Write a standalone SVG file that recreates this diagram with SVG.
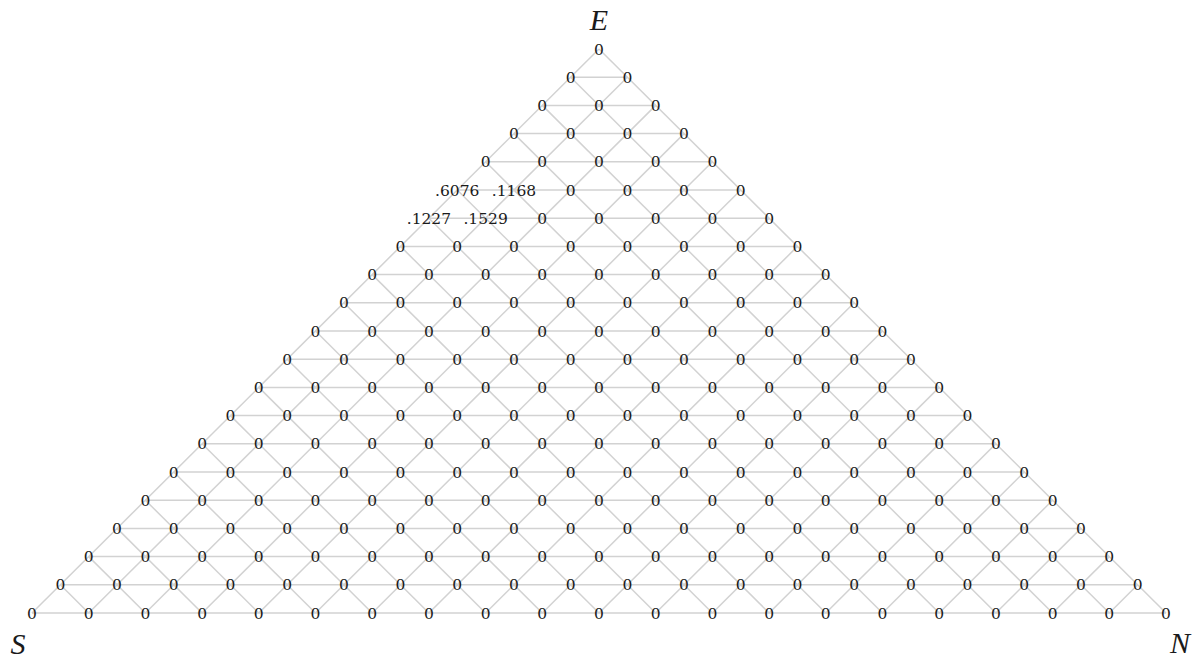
<svg xmlns="http://www.w3.org/2000/svg" width="1203" height="659" viewBox="0 0 1203 659">
<style>
.bg{fill:#ffffff}
.grid line{stroke:#d2d2d2;stroke-width:1.5;fill:none}
.v{font-family:"DejaVu Serif","Liberation Serif",serif;font-size:15.5px;fill:#1a1a1a;text-anchor:middle}
.corner{font-family:"Liberation Serif","DejaVu Serif",serif;font-style:italic;font-size:30px;fill:#1a1a1a;text-anchor:middle}
</style>
<rect class="bg" x="0" y="0" width="1203" height="659"/>
<g id="connectors" class="grid">
<line x1="570.65" y1="77.2" x2="627.35" y2="77.2"/>
<line x1="542.3" y1="105.4" x2="655.7" y2="105.4"/>
<line x1="513.95" y1="133.6" x2="684.05" y2="133.6"/>
<line x1="485.6" y1="161.8" x2="712.4" y2="161.8"/>
<line x1="457.25" y1="190" x2="740.75" y2="190"/>
<line x1="428.9" y1="218.2" x2="769.1" y2="218.2"/>
<line x1="400.55" y1="246.4" x2="797.45" y2="246.4"/>
<line x1="372.2" y1="274.6" x2="825.8" y2="274.6"/>
<line x1="343.85" y1="302.8" x2="854.15" y2="302.8"/>
<line x1="315.5" y1="331" x2="882.5" y2="331"/>
<line x1="287.15" y1="359.2" x2="910.85" y2="359.2"/>
<line x1="258.8" y1="387.4" x2="939.2" y2="387.4"/>
<line x1="230.45" y1="415.6" x2="967.55" y2="415.6"/>
<line x1="202.1" y1="443.8" x2="995.9" y2="443.8"/>
<line x1="173.75" y1="472" x2="1024.25" y2="472"/>
<line x1="145.4" y1="500.2" x2="1052.6" y2="500.2"/>
<line x1="117.05" y1="528.4" x2="1080.95" y2="528.4"/>
<line x1="88.7" y1="556.6" x2="1109.3" y2="556.6"/>
<line x1="60.35" y1="584.8" x2="1137.65" y2="584.8"/>
<line x1="32" y1="613" x2="1166" y2="613"/>
<line x1="599" y1="49" x2="32" y2="613"/>
<line x1="627.35" y1="77.2" x2="88.7" y2="613"/>
<line x1="655.7" y1="105.4" x2="145.4" y2="613"/>
<line x1="684.05" y1="133.6" x2="202.1" y2="613"/>
<line x1="712.4" y1="161.8" x2="258.8" y2="613"/>
<line x1="740.75" y1="190" x2="315.5" y2="613"/>
<line x1="769.1" y1="218.2" x2="372.2" y2="613"/>
<line x1="797.45" y1="246.4" x2="428.9" y2="613"/>
<line x1="825.8" y1="274.6" x2="485.6" y2="613"/>
<line x1="854.15" y1="302.8" x2="542.3" y2="613"/>
<line x1="882.5" y1="331" x2="599" y2="613"/>
<line x1="910.85" y1="359.2" x2="655.7" y2="613"/>
<line x1="939.2" y1="387.4" x2="712.4" y2="613"/>
<line x1="967.55" y1="415.6" x2="769.1" y2="613"/>
<line x1="995.9" y1="443.8" x2="825.8" y2="613"/>
<line x1="1024.25" y1="472" x2="882.5" y2="613"/>
<line x1="1052.6" y1="500.2" x2="939.2" y2="613"/>
<line x1="1080.95" y1="528.4" x2="995.9" y2="613"/>
<line x1="1109.3" y1="556.6" x2="1052.6" y2="613"/>
<line x1="1137.65" y1="584.8" x2="1109.3" y2="613"/>
<line x1="599" y1="49" x2="1166" y2="613"/>
<line x1="570.65" y1="77.2" x2="1109.3" y2="613"/>
<line x1="542.3" y1="105.4" x2="1052.6" y2="613"/>
<line x1="513.95" y1="133.6" x2="995.9" y2="613"/>
<line x1="485.6" y1="161.8" x2="939.2" y2="613"/>
<line x1="457.25" y1="190" x2="882.5" y2="613"/>
<line x1="428.9" y1="218.2" x2="825.8" y2="613"/>
<line x1="400.55" y1="246.4" x2="769.1" y2="613"/>
<line x1="372.2" y1="274.6" x2="712.4" y2="613"/>
<line x1="343.85" y1="302.8" x2="655.7" y2="613"/>
<line x1="315.5" y1="331" x2="599" y2="613"/>
<line x1="287.15" y1="359.2" x2="542.3" y2="613"/>
<line x1="258.8" y1="387.4" x2="485.6" y2="613"/>
<line x1="230.45" y1="415.6" x2="428.9" y2="613"/>
<line x1="202.1" y1="443.8" x2="372.2" y2="613"/>
<line x1="173.75" y1="472" x2="315.5" y2="613"/>
<line x1="145.4" y1="500.2" x2="258.8" y2="613"/>
<line x1="117.05" y1="528.4" x2="202.1" y2="613"/>
<line x1="88.7" y1="556.6" x2="145.4" y2="613"/>
<line x1="60.35" y1="584.8" x2="88.7" y2="613"/>
</g>
<g id="nodes" class="v">
<g id="row0" transform="translate(599,54.6)"><g id="n0-0"><text x="0">0</text></g></g>
<g id="row1" transform="translate(570.65,82.8)"><g id="n1-0"><text x="0">0</text></g><g id="n1-1"><text x="56.7">0</text></g></g>
<g id="row2" transform="translate(542.3,111)"><g id="n2-0"><text x="0">0</text></g><g id="n2-1"><text x="56.7">0</text></g><g id="n2-2"><text x="113.4">0</text></g></g>
<g id="row3" transform="translate(513.95,139.2)"><g id="n3-0"><text x="0">0</text></g><g id="n3-1"><text x="56.7">0</text></g><g id="n3-2"><text x="113.4">0</text></g><g id="n3-3"><text x="170.1">0</text></g></g>
<g id="row4" transform="translate(485.6,167.4)"><g id="n4-0"><text x="0">0</text></g><g id="n4-1"><text x="56.7">0</text></g><g id="n4-2"><text x="113.4">0</text></g><g id="n4-3"><text x="170.1">0</text></g><g id="n4-4"><text x="226.8">0</text></g></g>
<g id="row5" transform="translate(457.25,195.6)"><g id="n5-0"><text x="0">.6076</text></g><g id="n5-1"><text x="56.7">.1168</text></g><g id="n5-2"><text x="113.4">0</text></g><g id="n5-3"><text x="170.1">0</text></g><g id="n5-4"><text x="226.8">0</text></g><g id="n5-5"><text x="283.5">0</text></g></g>
<g id="row6" transform="translate(428.9,223.8)"><g id="n6-0"><text x="0">.1227</text></g><g id="n6-1"><text x="56.7">.1529</text></g><g id="n6-2"><text x="113.4">0</text></g><g id="n6-3"><text x="170.1">0</text></g><g id="n6-4"><text x="226.8">0</text></g><g id="n6-5"><text x="283.5">0</text></g><g id="n6-6"><text x="340.2">0</text></g></g>
<g id="row7" transform="translate(400.55,252)"><g id="n7-0"><text x="0">0</text></g><g id="n7-1"><text x="56.7">0</text></g><g id="n7-2"><text x="113.4">0</text></g><g id="n7-3"><text x="170.1">0</text></g><g id="n7-4"><text x="226.8">0</text></g><g id="n7-5"><text x="283.5">0</text></g><g id="n7-6"><text x="340.2">0</text></g><g id="n7-7"><text x="396.9">0</text></g></g>
<g id="row8" transform="translate(372.2,280.2)"><g id="n8-0"><text x="0">0</text></g><g id="n8-1"><text x="56.7">0</text></g><g id="n8-2"><text x="113.4">0</text></g><g id="n8-3"><text x="170.1">0</text></g><g id="n8-4"><text x="226.8">0</text></g><g id="n8-5"><text x="283.5">0</text></g><g id="n8-6"><text x="340.2">0</text></g><g id="n8-7"><text x="396.9">0</text></g><g id="n8-8"><text x="453.6">0</text></g></g>
<g id="row9" transform="translate(343.85,308.4)"><g id="n9-0"><text x="0">0</text></g><g id="n9-1"><text x="56.7">0</text></g><g id="n9-2"><text x="113.4">0</text></g><g id="n9-3"><text x="170.1">0</text></g><g id="n9-4"><text x="226.8">0</text></g><g id="n9-5"><text x="283.5">0</text></g><g id="n9-6"><text x="340.2">0</text></g><g id="n9-7"><text x="396.9">0</text></g><g id="n9-8"><text x="453.6">0</text></g><g id="n9-9"><text x="510.3">0</text></g></g>
<g id="row10" transform="translate(315.5,336.6)"><g id="n10-0"><text x="0">0</text></g><g id="n10-1"><text x="56.7">0</text></g><g id="n10-2"><text x="113.4">0</text></g><g id="n10-3"><text x="170.1">0</text></g><g id="n10-4"><text x="226.8">0</text></g><g id="n10-5"><text x="283.5">0</text></g><g id="n10-6"><text x="340.2">0</text></g><g id="n10-7"><text x="396.9">0</text></g><g id="n10-8"><text x="453.6">0</text></g><g id="n10-9"><text x="510.3">0</text></g><g id="n10-10"><text x="567">0</text></g></g>
<g id="row11" transform="translate(287.15,364.8)"><g id="n11-0"><text x="0">0</text></g><g id="n11-1"><text x="56.7">0</text></g><g id="n11-2"><text x="113.4">0</text></g><g id="n11-3"><text x="170.1">0</text></g><g id="n11-4"><text x="226.8">0</text></g><g id="n11-5"><text x="283.5">0</text></g><g id="n11-6"><text x="340.2">0</text></g><g id="n11-7"><text x="396.9">0</text></g><g id="n11-8"><text x="453.6">0</text></g><g id="n11-9"><text x="510.3">0</text></g><g id="n11-10"><text x="567">0</text></g><g id="n11-11"><text x="623.7">0</text></g></g>
<g id="row12" transform="translate(258.8,393)"><g id="n12-0"><text x="0">0</text></g><g id="n12-1"><text x="56.7">0</text></g><g id="n12-2"><text x="113.4">0</text></g><g id="n12-3"><text x="170.1">0</text></g><g id="n12-4"><text x="226.8">0</text></g><g id="n12-5"><text x="283.5">0</text></g><g id="n12-6"><text x="340.2">0</text></g><g id="n12-7"><text x="396.9">0</text></g><g id="n12-8"><text x="453.6">0</text></g><g id="n12-9"><text x="510.3">0</text></g><g id="n12-10"><text x="567">0</text></g><g id="n12-11"><text x="623.7">0</text></g><g id="n12-12"><text x="680.4">0</text></g></g>
<g id="row13" transform="translate(230.45,421.2)"><g id="n13-0"><text x="0">0</text></g><g id="n13-1"><text x="56.7">0</text></g><g id="n13-2"><text x="113.4">0</text></g><g id="n13-3"><text x="170.1">0</text></g><g id="n13-4"><text x="226.8">0</text></g><g id="n13-5"><text x="283.5">0</text></g><g id="n13-6"><text x="340.2">0</text></g><g id="n13-7"><text x="396.9">0</text></g><g id="n13-8"><text x="453.6">0</text></g><g id="n13-9"><text x="510.3">0</text></g><g id="n13-10"><text x="567">0</text></g><g id="n13-11"><text x="623.7">0</text></g><g id="n13-12"><text x="680.4">0</text></g><g id="n13-13"><text x="737.1">0</text></g></g>
<g id="row14" transform="translate(202.1,449.4)"><g id="n14-0"><text x="0">0</text></g><g id="n14-1"><text x="56.7">0</text></g><g id="n14-2"><text x="113.4">0</text></g><g id="n14-3"><text x="170.1">0</text></g><g id="n14-4"><text x="226.8">0</text></g><g id="n14-5"><text x="283.5">0</text></g><g id="n14-6"><text x="340.2">0</text></g><g id="n14-7"><text x="396.9">0</text></g><g id="n14-8"><text x="453.6">0</text></g><g id="n14-9"><text x="510.3">0</text></g><g id="n14-10"><text x="567">0</text></g><g id="n14-11"><text x="623.7">0</text></g><g id="n14-12"><text x="680.4">0</text></g><g id="n14-13"><text x="737.1">0</text></g><g id="n14-14"><text x="793.8">0</text></g></g>
<g id="row15" transform="translate(173.75,477.6)"><g id="n15-0"><text x="0">0</text></g><g id="n15-1"><text x="56.7">0</text></g><g id="n15-2"><text x="113.4">0</text></g><g id="n15-3"><text x="170.1">0</text></g><g id="n15-4"><text x="226.8">0</text></g><g id="n15-5"><text x="283.5">0</text></g><g id="n15-6"><text x="340.2">0</text></g><g id="n15-7"><text x="396.9">0</text></g><g id="n15-8"><text x="453.6">0</text></g><g id="n15-9"><text x="510.3">0</text></g><g id="n15-10"><text x="567">0</text></g><g id="n15-11"><text x="623.7">0</text></g><g id="n15-12"><text x="680.4">0</text></g><g id="n15-13"><text x="737.1">0</text></g><g id="n15-14"><text x="793.8">0</text></g><g id="n15-15"><text x="850.5">0</text></g></g>
<g id="row16" transform="translate(145.4,505.8)"><g id="n16-0"><text x="0">0</text></g><g id="n16-1"><text x="56.7">0</text></g><g id="n16-2"><text x="113.4">0</text></g><g id="n16-3"><text x="170.1">0</text></g><g id="n16-4"><text x="226.8">0</text></g><g id="n16-5"><text x="283.5">0</text></g><g id="n16-6"><text x="340.2">0</text></g><g id="n16-7"><text x="396.9">0</text></g><g id="n16-8"><text x="453.6">0</text></g><g id="n16-9"><text x="510.3">0</text></g><g id="n16-10"><text x="567">0</text></g><g id="n16-11"><text x="623.7">0</text></g><g id="n16-12"><text x="680.4">0</text></g><g id="n16-13"><text x="737.1">0</text></g><g id="n16-14"><text x="793.8">0</text></g><g id="n16-15"><text x="850.5">0</text></g><g id="n16-16"><text x="907.2">0</text></g></g>
<g id="row17" transform="translate(117.05,534)"><g id="n17-0"><text x="0">0</text></g><g id="n17-1"><text x="56.7">0</text></g><g id="n17-2"><text x="113.4">0</text></g><g id="n17-3"><text x="170.1">0</text></g><g id="n17-4"><text x="226.8">0</text></g><g id="n17-5"><text x="283.5">0</text></g><g id="n17-6"><text x="340.2">0</text></g><g id="n17-7"><text x="396.9">0</text></g><g id="n17-8"><text x="453.6">0</text></g><g id="n17-9"><text x="510.3">0</text></g><g id="n17-10"><text x="567">0</text></g><g id="n17-11"><text x="623.7">0</text></g><g id="n17-12"><text x="680.4">0</text></g><g id="n17-13"><text x="737.1">0</text></g><g id="n17-14"><text x="793.8">0</text></g><g id="n17-15"><text x="850.5">0</text></g><g id="n17-16"><text x="907.2">0</text></g><g id="n17-17"><text x="963.9">0</text></g></g>
<g id="row18" transform="translate(88.7,562.2)"><g id="n18-0"><text x="0">0</text></g><g id="n18-1"><text x="56.7">0</text></g><g id="n18-2"><text x="113.4">0</text></g><g id="n18-3"><text x="170.1">0</text></g><g id="n18-4"><text x="226.8">0</text></g><g id="n18-5"><text x="283.5">0</text></g><g id="n18-6"><text x="340.2">0</text></g><g id="n18-7"><text x="396.9">0</text></g><g id="n18-8"><text x="453.6">0</text></g><g id="n18-9"><text x="510.3">0</text></g><g id="n18-10"><text x="567">0</text></g><g id="n18-11"><text x="623.7">0</text></g><g id="n18-12"><text x="680.4">0</text></g><g id="n18-13"><text x="737.1">0</text></g><g id="n18-14"><text x="793.8">0</text></g><g id="n18-15"><text x="850.5">0</text></g><g id="n18-16"><text x="907.2">0</text></g><g id="n18-17"><text x="963.9">0</text></g><g id="n18-18"><text x="1020.6">0</text></g></g>
<g id="row19" transform="translate(60.35,590.4)"><g id="n19-0"><text x="0">0</text></g><g id="n19-1"><text x="56.7">0</text></g><g id="n19-2"><text x="113.4">0</text></g><g id="n19-3"><text x="170.1">0</text></g><g id="n19-4"><text x="226.8">0</text></g><g id="n19-5"><text x="283.5">0</text></g><g id="n19-6"><text x="340.2">0</text></g><g id="n19-7"><text x="396.9">0</text></g><g id="n19-8"><text x="453.6">0</text></g><g id="n19-9"><text x="510.3">0</text></g><g id="n19-10"><text x="567">0</text></g><g id="n19-11"><text x="623.7">0</text></g><g id="n19-12"><text x="680.4">0</text></g><g id="n19-13"><text x="737.1">0</text></g><g id="n19-14"><text x="793.8">0</text></g><g id="n19-15"><text x="850.5">0</text></g><g id="n19-16"><text x="907.2">0</text></g><g id="n19-17"><text x="963.9">0</text></g><g id="n19-18"><text x="1020.6">0</text></g><g id="n19-19"><text x="1077.3">0</text></g></g>
<g id="row20" transform="translate(32,618.6)"><g id="n20-0"><text x="0">0</text></g><g id="n20-1"><text x="56.7">0</text></g><g id="n20-2"><text x="113.4">0</text></g><g id="n20-3"><text x="170.1">0</text></g><g id="n20-4"><text x="226.8">0</text></g><g id="n20-5"><text x="283.5">0</text></g><g id="n20-6"><text x="340.2">0</text></g><g id="n20-7"><text x="396.9">0</text></g><g id="n20-8"><text x="453.6">0</text></g><g id="n20-9"><text x="510.3">0</text></g><g id="n20-10"><text x="567">0</text></g><g id="n20-11"><text x="623.7">0</text></g><g id="n20-12"><text x="680.4">0</text></g><g id="n20-13"><text x="737.1">0</text></g><g id="n20-14"><text x="793.8">0</text></g><g id="n20-15"><text x="850.5">0</text></g><g id="n20-16"><text x="907.2">0</text></g><g id="n20-17"><text x="963.9">0</text></g><g id="n20-18"><text x="1020.6">0</text></g><g id="n20-19"><text x="1077.3">0</text></g><g id="n20-20"><text x="1134">0</text></g></g>
</g>
<g id="corners" class="corner">
<g id="label-E"><text x="599" y="30">E</text></g>
<g id="label-S"><text x="18" y="654">S</text></g>
<g id="label-N"><text x="1180" y="653">N</text></g>
</g>
</svg>
